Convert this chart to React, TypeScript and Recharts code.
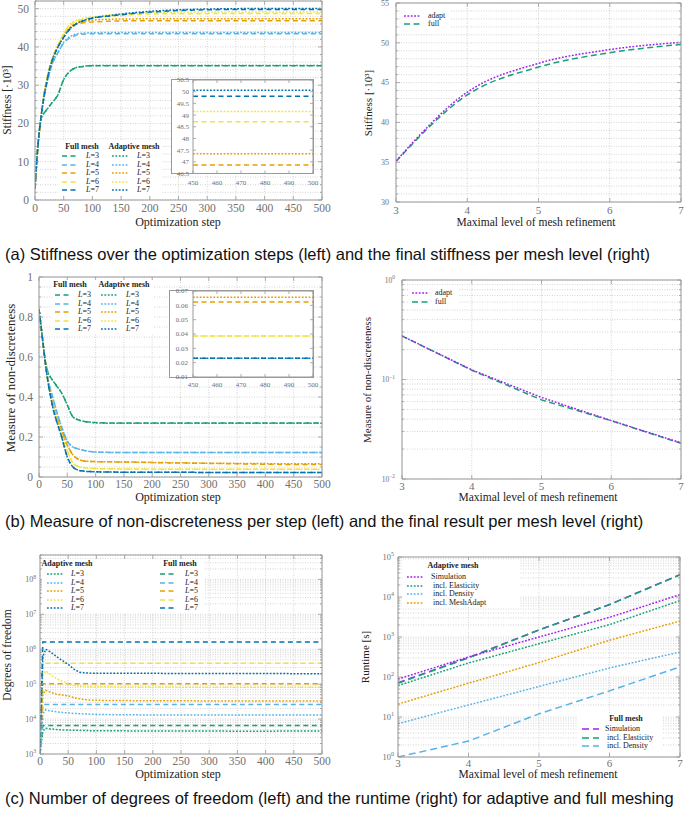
import React from 'react';
import { LineChart, Line, XAxis, YAxis, CartesianGrid } from 'recharts';

const SERIF = '"Liberation Serif", "DejaVu Serif", serif';
const SANS = '"Liberation Sans", Arial, sans-serif';
const FRAME = '#9a9a9a';
const GRID = '#c9c9c9';
const TICKTXT = '#707070';

const C3 = '#16a077', C4 = '#56b4e9', C5 = '#e69f00', C6 = '#f0e442', C7 = '#0072b2', PURPLE = '#a020f0';
const levelColors = [C3, C4, C5, C6, C7];
const levels = [3, 4, 5, 6, 7];

// ---------- left-column x values ----------
const steps = [0, 5, 10, 15, 20, 25, 30, 40, 50, 60, 70, 80, 90, 100, 125, 150, 175, 200, 250, 300, 350, 400, 450, 500];

// ---------- (a) stiffness [·10^3] ----------
const stiffFull = [
  [3, 14, 21, 22.5, 23.5, 24.5, 25.5, 27.5, 31.5, 33.5, 34.5, 34.8, 35, 35.1, 35.1, 35.1, 35.1, 35.1, 35.1, 35.1, 35.1, 35.1, 35.1, 35.1],
  [3, 14, 21, 26, 30, 33, 35.5, 38.5, 41, 42.3, 43, 43.3, 43.4, 43.45, 43.45, 43.45, 43.45, 43.45, 43.45, 43.45, 43.45, 43.45, 43.45, 43.45],
  [3, 14, 21, 27, 31, 34, 36.5, 40, 43, 44.8, 45.8, 46.2, 46.4, 46.5, 46.7, 46.8, 46.85, 46.86, 46.86, 46.86, 46.86, 46.86, 46.86, 46.86],
  [3, 14, 21, 27, 31, 34.5, 37, 40.5, 43.5, 45.5, 46.6, 47.1, 47.4, 47.6, 48, 48.3, 48.5, 48.6, 48.68, 48.7, 48.71, 48.71, 48.71, 48.71],
  [3, 14, 21, 26.5, 30.5, 34, 36.5, 40, 42.5, 44.5, 45.8, 46.6, 47.1, 47.5, 48, 48.4, 48.8, 49.1, 49.5, 49.7, 49.78, 49.8, 49.81, 49.81],
];
const stiffAdapt = [
  [3, 14, 21, 22.5, 23.5, 24.5, 25.5, 27.5, 31.5, 33.5, 34.5, 34.85, 35.05, 35.15, 35.15, 35.15, 35.15, 35.15, 35.15, 35.15, 35.15, 35.15, 35.15, 35.15],
  [3, 14, 21, 26, 30, 33, 35.5, 38.5, 41.2, 42.6, 43.3, 43.55, 43.65, 43.7, 43.75, 43.75, 43.75, 43.75, 43.75, 43.75, 43.75, 43.75, 43.75, 43.75],
  [3, 14, 21, 27, 31, 34, 36.5, 40, 43, 45, 46, 46.5, 46.8, 47, 47.2, 47.3, 47.33, 47.34, 47.34, 47.34, 47.34, 47.34, 47.34, 47.34],
  [3, 14, 21, 27, 31, 34.5, 37, 40.5, 43.5, 45.8, 46.8, 47.3, 47.6, 47.8, 48.3, 48.6, 48.8, 48.95, 49.08, 49.13, 49.15, 49.15, 49.15, 49.15],
  [3, 14, 21, 26.5, 30.5, 34, 36.5, 40, 42.5, 44.6, 45.9, 46.7, 47.2, 47.6, 48.1, 48.6, 49, 49.3, 49.7, 49.9, 50, 50.04, 50.06, 50.06],
];
const stiffFinalAdapt = [35.15, 43.8, 47.42, 49.15, 50.06];
const stiffFinalFull = [35.1, 43.45, 46.95, 48.75, 49.8];

// ---------- (b) measure of non-discreteness ----------
const ndFull = [
  [0.84, 0.72, 0.6, 0.53, 0.5, 0.48, 0.46, 0.42, 0.36, 0.3, 0.285, 0.278, 0.274, 0.272, 0.27, 0.27, 0.27, 0.27, 0.27, 0.27, 0.27, 0.27, 0.27, 0.27],
  [0.84, 0.72, 0.6, 0.5, 0.44, 0.39, 0.34, 0.25, 0.18, 0.15, 0.14, 0.133, 0.128, 0.125, 0.123, 0.122, 0.122, 0.122, 0.122, 0.122, 0.122, 0.122, 0.122, 0.122],
  [0.84, 0.72, 0.6, 0.5, 0.42, 0.36, 0.31, 0.23, 0.16, 0.11, 0.088, 0.08, 0.078, 0.077, 0.076, 0.075, 0.074, 0.072, 0.07, 0.068, 0.066, 0.064, 0.0624, 0.0624],
  [0.84, 0.72, 0.6, 0.49, 0.41, 0.35, 0.3, 0.21, 0.13, 0.07, 0.052, 0.046, 0.044, 0.042, 0.041, 0.04, 0.04, 0.039, 0.0388, 0.0386, 0.0386, 0.0386, 0.0386, 0.0386],
  [0.84, 0.72, 0.6, 0.49, 0.41, 0.34, 0.29, 0.2, 0.1, 0.05, 0.034, 0.029, 0.027, 0.026, 0.025, 0.024, 0.0238, 0.0235, 0.0232, 0.0231, 0.0231, 0.0231, 0.0231, 0.0231],
];
const ndAdapt = [
  [0.84, 0.72, 0.6, 0.53, 0.5, 0.48, 0.46, 0.42, 0.36, 0.3, 0.285, 0.278, 0.274, 0.271, 0.269, 0.269, 0.269, 0.269, 0.269, 0.269, 0.269, 0.269, 0.269, 0.269],
  [0.84, 0.72, 0.6, 0.5, 0.44, 0.39, 0.34, 0.25, 0.18, 0.15, 0.14, 0.133, 0.128, 0.125, 0.123, 0.1225, 0.1225, 0.1225, 0.1225, 0.1225, 0.1225, 0.1225, 0.1225, 0.1225],
  [0.84, 0.72, 0.6, 0.5, 0.42, 0.36, 0.31, 0.23, 0.16, 0.11, 0.088, 0.08, 0.078, 0.077, 0.076, 0.075, 0.074, 0.073, 0.071, 0.069, 0.068, 0.067, 0.0657, 0.0657],
  [0.84, 0.72, 0.6, 0.49, 0.41, 0.35, 0.3, 0.21, 0.13, 0.07, 0.052, 0.046, 0.044, 0.042, 0.041, 0.04, 0.04, 0.039, 0.0388, 0.0386, 0.0386, 0.0386, 0.0386, 0.0386],
  [0.84, 0.72, 0.6, 0.49, 0.41, 0.34, 0.29, 0.2, 0.1, 0.05, 0.034, 0.029, 0.027, 0.026, 0.025, 0.024, 0.0238, 0.0235, 0.0232, 0.0231, 0.0231, 0.0231, 0.0231, 0.0231],
];
const ndFinalAdapt = [0.274, 0.125, 0.066, 0.0386, 0.0231];
const ndFinalFull = [0.274, 0.124, 0.0624, 0.0386, 0.0228];

// ---------- (c) degrees of freedom ----------
const dofAdapt = [
  [1000, 4500, 5500, 5300, 5200, 5100, 5000, 4900, 4850, 4800, 4750, 4700, 4650, 4600, 4600, 4600, 4550, 4550, 4550, 4550, 4500, 4500, 4550, 4550],
  [1000, 14000, 18500, 17500, 17000, 16500, 16000, 15500, 15000, 14500, 14200, 14000, 13800, 13600, 13400, 13300, 13200, 13100, 13000, 13000, 13000, 13000, 13000, 13000],
  [1000, 50000, 67000, 62000, 58000, 54000, 51000, 49000, 46000, 41000, 38000, 36000, 35000, 34500, 34000, 34000, 33500, 33500, 33500, 33000, 33000, 33000, 33000, 33000],
  [1000, 180000, 240000, 210000, 180000, 160000, 140000, 120000, 105000, 92000, 88000, 86000, 85000, 84000, 84000, 83000, 83000, 83000, 82000, 82000, 82000, 81000, 81000, 81000],
  [1000, 600000, 1000000, 900000, 800000, 700000, 600000, 470000, 370000, 270000, 220000, 210000, 207000, 205000, 205000, 205000, 204000, 204000, 203000, 203000, 202000, 202000, 200000, 200000],
];
const dofFullFinal = [6500, 26000, 102000, 400000, 1600000];
const dofFull = dofFullFinal.map((v) => steps.map((s) => (s === 0 ? 1000 : v)));

// ---------- (c) runtime [s] ----------
const rtAdaptSim = [89, 316, 1000, 3100, 11500];
const rtAdaptElast = [61, 224, 680, 2040, 8100];
const rtAdaptDens = [6.8, 20, 58, 168, 420];
const rtAdaptMesh = [21, 70, 230, 830, 2500];
const rtFullSim = [72, 305, 1500, 6500, 36000];
const rtFullElast = [70, 300, 1500, 6400, 36000];
const rtFullDens = [1.0, 2.5, 12, 45, 180];

// ---------- tick helpers ----------
const range = (a: number, b: number, s: number) => {
  const out: number[] = [];
  for (let i = 0; a + i * s <= b + 1e-9; i++) out.push(+(a + i * s).toFixed(6));
  return out;
};
const logTicks = (lo: number, hi: number, max: number) => {
  const out: number[] = [];
  for (let d = lo; d <= hi; d++) for (let m = 1; m <= 9; m++) {
    const v = +(m * Math.pow(10, d)).toPrecision(6);
    if (v <= max * 1.000001) out.push(v);
  }
  return out;
};
const every = (step: number) => (v: number) => Math.abs(v / step - Math.round(v / step)) < 1e-6;
const isDecade = (v: number) => Math.abs(Math.log10(v) - Math.round(Math.log10(v))) < 1e-6;
const numFmt = (v: number) => String(v);
const logFmt = (fs: number) => (v: number) => {
  const k = Math.round(Math.log10(v));
  return [
    <tspan key="a">10</tspan>,
    <tspan key="b" dy={-fs * 0.42} fontSize={fs * 0.72}>{k < 0 ? '\u2212' + -k : String(k)}</tspan>,
  ];
};

function mkTick(side: string, ax: any, len: number, mlen: number) {
  return (props: any) => {
    const { x, y, payload } = props;
    const v = Number(payload.value);
    const M = ax.major(v);
    const L = M ? len : mlen;
    const els: any[] = [];
    if (side === 'bottom') els.push(<line key="l" x1={x} y1={y} x2={x} y2={y - L} stroke={FRAME} strokeWidth={0.8} />);
    if (side === 'top') els.push(<line key="l" x1={x} y1={y} x2={x} y2={y + L} stroke={FRAME} strokeWidth={0.8} />);
    if (side === 'left') els.push(<line key="l" x1={x} y1={y} x2={x + L} y2={y} stroke={FRAME} strokeWidth={0.8} />);
    if (side === 'right') els.push(<line key="l" x1={x} y1={y} x2={x - L} y2={y} stroke={FRAME} strokeWidth={0.8} />);
    if (M && (side === 'bottom' || side === 'left')) {
      const tx = side === 'bottom' ? x : x - ax.off;
      const ty = side === 'bottom' ? y + ax.off + ax.fs * 0.35 : y + ax.fs * 0.35;
      els.push(
        <text key="t" x={tx} y={ty} textAnchor={side === 'bottom' ? 'middle' : 'end'} fontSize={ax.fs} fill={TICKTXT} fontFamily={SERIF}>
          {ax.fmt(v)}
        </text>
      );
    }
    return <g>{els}</g>;
  };
}

function Panel(props: any) {
  const { x0, x1, y0, y1, data, xKey, series, xa, ya, grid = true, mirror = true, len = 4, mlen = 2 } = props;
  const padL = 40, padR = 10, padB = 26;
  const padT = Math.max(1, Math.min(10, y0));
  const left = x0 - padL, top = y0 - padT;
  const width = x1 - x0 + padL + padR, height = y1 - y0 + padT + padB;
  const common: any = { allowDataOverflow: true, interval: 0, tickLine: false, tickSize: 0, tickMargin: 0, axisLine: { stroke: FRAME, strokeWidth: 1 } };
  const xs = xa.log ? 'log' : 'linear';
  const ys = ya.log ? 'log' : 'linear';
  const m = mirror ? 1 : 0;
  return (
    <div style={{ position: 'absolute', left, top, width, height }}>
      <LineChart width={width} height={height} data={data} margin={{ top: padT - m, right: padR - m, bottom: padB - 1, left: padL - 1 }}>
        {grid && <CartesianGrid xAxisId={0} yAxisId={0} stroke={GRID} strokeDasharray="1 1.5" strokeWidth={0.8} />}
        <XAxis xAxisId={0} dataKey={xKey} type="number" scale={xs} domain={xa.domain} ticks={xa.ticks} height={1} tick={mkTick('bottom', xa, len, mlen)} {...common} />
        {mirror && <XAxis xAxisId="top" orientation="top" dataKey={xKey} type="number" scale={xs} domain={xa.domain} ticks={xa.ticks} height={1} tick={mkTick('top', xa, len, mlen)} {...common} />}
        <YAxis yAxisId={0} type="number" scale={ys} domain={ya.domain} ticks={ya.ticks} width={1} tick={mkTick('left', ya, len, mlen)} {...common} />
        {mirror && <YAxis yAxisId="right" orientation="right" type="number" scale={ys} domain={ya.domain} ticks={ya.ticks} width={1} tick={mkTick('right', ya, len, mlen)} {...common} />}
        {series.map((s: any) => (
          <Line key={s.key} xAxisId={0} yAxisId={0} dataKey={s.key} stroke={s.color} strokeWidth={s.w ?? 1.5} strokeDasharray={s.dash} dot={false} activeDot={false} isAnimationActive={false} type={s.curve ?? 'monotone'} />
        ))}
      </LineChart>
    </div>
  );
}

// ---------- data tables built from arrays ----------
const leftRows = (full: number[][], adapt: number[][]) =>
  steps.map((s, i) => {
    const r: any = { step: s };
    levels.forEach((_, j) => {
      r['f' + j] = full[j][i];
      r['a' + j] = adapt[j][i];
    });
    return r;
  });
const stiffRows = leftRows(stiffFull, stiffAdapt);
const ndRows = leftRows(ndFull, ndAdapt);
const dofRows = leftRows(dofFull, dofAdapt);
const stiffFinalRows = levels.map((l, i) => ({ lvl: l, adapt: stiffFinalAdapt[i], full: stiffFinalFull[i] }));
const ndFinalRows = levels.map((l, i) => ({ lvl: l, adapt: ndFinalAdapt[i], full: ndFinalFull[i] }));
const rtRows = levels.map((l, i) => ({
  lvl: l, aSim: rtAdaptSim[i], aEl: rtAdaptElast[i], aDe: rtAdaptDens[i], aMe: rtAdaptMesh[i],
  fSim: rtFullSim[i], fEl: rtFullElast[i], fDe: rtFullDens[i],
}));

const DASH = '5 3.5';
const DOT = '1.8 1.6';
const leftSeries = (curve: string) =>
  levels.flatMap((_, j) => [
    { key: 'f' + j, color: levelColors[j], dash: DASH, curve },
    { key: 'a' + j, color: levelColors[j], dash: DOT, curve },
  ]);
const insetSeries = (idx: number[]) => idx.flatMap((j) => [
  { key: 'f' + j, color: levelColors[j], dash: DASH, curve: 'linear' },
  { key: 'a' + j, color: levelColors[j], dash: DOT, curve: 'linear' },
]);

const stepAxis = (fs: number, off: number) => ({ domain: [0, 500], ticks: range(0, 500, 50), major: every(50), fmt: numFmt, fs, off });
const lvlAxis = (fs: number, off: number) => ({ domain: [3, 7], ticks: [3, 4, 5, 6, 7], major: every(1), fmt: numFmt, fs, off });

// ---------- small text / legend helpers ----------
function Txt({ x, y, children, fs = 11, rot = false, color = '#222', family = SERIF, weight = 'normal', anchor = 'middle' }: any) {
  const tr = rot ? 'translate(-50%,-50%) rotate(-90deg)' : anchor === 'middle' ? 'translate(-50%,-50%)' : 'translate(0,-50%)';
  return (
    <div style={{ position: 'absolute', left: x, top: y, transform: tr, whiteSpace: 'pre', fontSize: fs, fontFamily: family, color, lineHeight: 1, fontWeight: weight }}>
      {children}
    </div>
  );
}
function Sw({ x, y, w = 17, color, dash, sw = 1.5 }: any) {
  return (
    <svg width={w} height={6} style={{ position: 'absolute', left: x, top: y - 3 }}>
      <line x1={0} y1={3} x2={w} y2={3} stroke={color} strokeWidth={sw} strokeDasharray={dash} />
    </svg>
  );
}
function Box({ x, y, w, h, border }: any) {
  return <div style={{ position: 'absolute', left: x, top: y, width: w, height: h, background: '#fff', boxSizing: 'border-box', border: border ? `1px solid ${FRAME}` : 'none' }} />;
}
const LLabel = ({ l }: any) => (
  <span>
    <i>L</i>={l}
  </span>
);

function TwoColLegend({ bx, by, bw, bh, hy, h1, h1x, h2, h2x, rows, c1sw, c1lab, c1dash, c2sw, c2lab, c2dash }: any) {
  return (
    <>
      <Box x={bx} y={by} w={bw} h={bh} />
      <Txt x={h1x} y={hy} fs={8} weight="bold">{h1}</Txt>
      <Txt x={h2x} y={hy} fs={8} weight="bold">{h2}</Txt>
      {levels.map((l, j) => (
        <React.Fragment key={l}>
          <Sw x={c1sw} y={rows[j]} color={levelColors[j]} dash={c1dash} />
          <Txt x={c1lab} y={rows[j]} fs={8} anchor="start"><LLabel l={l} /></Txt>
          <Sw x={c2sw} y={rows[j]} color={levelColors[j]} dash={c2dash} />
          <Txt x={c2lab} y={rows[j]} fs={8} anchor="start"><LLabel l={l} /></Txt>
        </React.Fragment>
      ))}
    </>
  );
}

export default function App() {
  const insetStiffRows = stiffRows.filter((r) => r.step >= 450);
  const insetNdRows = ndRows.filter((r) => r.step >= 450);
  return (
    <div style={{ position: 'absolute', left: 0, top: 0, width: 685, height: 815, background: '#fff', overflow: 'hidden', fontFamily: SERIF }}>
      {/* ===== (a) left ===== */}
      <Panel x0={35} x1={322} y0={1} y1={200} data={stiffRows} xKey="step" series={leftSeries('monotone')}
        xa={stepAxis(11.5, 8)}
        ya={{ domain: [0, 52], ticks: range(0, 52, 2), major: every(10), fmt: numFmt, fs: 11.5, off: 6 }} />
      <Box x={171} y={79} w={143} h={95} border />
      <Panel x0={193} x1={313} y0={79.5} y1={173} data={insetStiffRows} xKey="step" series={insetSeries([2, 3, 4])} grid={false} len={3} mlen={3}
        xa={{ domain: [450, 500], ticks: range(450, 500, 10), major: every(10), fmt: numFmt, fs: 7, off: 9 }}
        ya={{ domain: [46.5, 50.5], ticks: range(46.5, 50.5, 0.5), major: every(0.5), fmt: numFmt, fs: 7, off: 4 }} />
      <TwoColLegend bx={58} by={141} bw={104} bh={55} hy={147} h1="Full mesh" h1x={82} h2="Adaptive mesh" h2x={134}
        rows={[156, 164.5, 173, 181.5, 190]} c1sw={62} c1lab={86} c1dash={DASH} c2sw={112} c2lab={137} c2dash={DOT} />
      <Txt x={8} y={100} fs={11.5} rot>Stiffness [·10³]</Txt>
      <Txt x={178} y={222} fs={12}>Optimization step</Txt>

      {/* ===== (a) right ===== */}
      <Panel x0={396} x1={681} y0={3} y1={202} data={stiffFinalRows} xKey="lvl"
        series={[{ key: 'full', color: C3, dash: '6 3.5', curve: 'monotone' }, { key: 'adapt', color: PURPLE, dash: DOT, curve: 'monotone' }]}
        xa={lvlAxis(11, 8)}
        ya={{ domain: [30, 55], ticks: range(30, 55, 1), major: every(5), fmt: numFmt, fs: 8, off: 7 }} />
      <Box x={401} y={10} w={50} h={19} />
      <Sw x={404} y={15.5} color={PURPLE} dash={DOT} />
      <Txt x={428} y={15.5} fs={8} anchor="start">adapt</Txt>
      <Sw x={404} y={23.5} color={C3} dash="6 3.5" />
      <Txt x={428} y={23.5} fs={8} anchor="start">full</Txt>
      <Txt x={368} y={103} fs={11} rot>Stiffness [·10³]</Txt>
      <Txt x={536} y={223} fs={11.5}>Maximal level of mesh refinement</Txt>

      <Txt x={5} y={254} fs={16.5} family={SANS} color="#111" anchor="start">(a) Stiffness over the optimization steps (left) and the final stiffness per mesh level (right)</Txt>

      {/* ===== (b) left ===== */}
      <Panel x0={39} x1={322} y0={277} y1={477} data={ndRows} xKey="step" series={leftSeries('monotone')}
        xa={stepAxis(11.5, 7)}
        ya={{ domain: [0, 1], ticks: range(0, 1, 0.05), major: every(0.2), fmt: numFmt, fs: 11.5, off: 6 }} />
      <Box x={169} y={290} w={145} h={88} border />
      <Panel x0={193} x1={313} y0={291} y1={377} data={insetNdRows} xKey="step" series={insetSeries([2, 3, 4])} grid={false} len={3} mlen={3}
        xa={{ domain: [450, 500], ticks: range(450, 500, 10), major: every(10), fmt: numFmt, fs: 7, off: 8 }}
        ya={{ domain: [0.01, 0.07], ticks: range(0.01, 0.07, 0.01), major: every(0.01), fmt: numFmt, fs: 7, off: 5 }} />
      <TwoColLegend bx={52} by={280} bw={101} bh={54} hy={285} h1="Full mesh" h1x={70} h2="Adaptive mesh" h2x={124}
        rows={[295, 303.5, 312, 320.5, 329]} c1sw={55} c1lab={78} c1dash={DASH} c2sw={101} c2lab={126} c2dash={DOT} />
      <Txt x={10} y={378} fs={13} rot>Measure of non-discreteness</Txt>
      <Txt x={178} y={497} fs={12}>Optimization step</Txt>

      {/* ===== (b) right ===== */}
      <Panel x0={402} x1={681} y0={280} y1={479} data={ndFinalRows} xKey="lvl"
        series={[{ key: 'full', color: C3, dash: '6 3.5', curve: 'linear' }, { key: 'adapt', color: PURPLE, dash: DOT, curve: 'linear' }]}
        xa={lvlAxis(11, 7)}
        ya={{ domain: [0.01, 1], ticks: logTicks(-2, 0, 1), major: isDecade, fmt: logFmt(7.5), fs: 7.5, off: 7, log: true }} />
      <Box x={408} y={288} w={50} h={19} />
      <Sw x={412} y={293} color={PURPLE} dash={DOT} />
      <Txt x={435} y={293} fs={8} anchor="start">adapt</Txt>
      <Sw x={412} y={301.5} color={C3} dash="6 3.5" />
      <Txt x={435} y={301.5} fs={8} anchor="start">full</Txt>
      <Txt x={367} y={380} fs={11} rot>Measure of non-discreteness</Txt>
      <Txt x={538} y={498} fs={11.5}>Maximal level of mesh refinement</Txt>

      <Txt x={5} y={521} fs={16.5} family={SANS} color="#111" anchor="start">(b) Measure of non-discreteness per step (left) and the final result per mesh level (right)</Txt>

      {/* ===== (c) left ===== */}
      <Panel x0={40} x1={322} y0={555} y1={754} data={dofRows} xKey="step" series={leftSeries('linear')}
        xa={stepAxis(11.5, 7)}
        ya={{ domain: [1000, 5e8], ticks: logTicks(3, 8, 5e8), major: isDecade, fmt: logFmt(8), fs: 8, off: 4, log: true }} />
      <TwoColLegend bx={42} by={559} bw={163} bh={54} hy={564} h1="Adaptive mesh" h1x={67} h2="Full mesh" h2x={180}
        rows={[574, 582.5, 591, 599.5, 608]} c1sw={47} c1lab={71} c1dash={DOT} c2sw={160} c2lab={185} c2dash={DASH} />
      <Txt x={8} y={655} fs={11.5} rot>Degrees of freedom</Txt>
      <Txt x={178} y={774} fs={12}>Optimization step</Txt>

      {/* ===== (c) right ===== */}
      <Panel x0={398} x1={680} y0={557} y1={757} data={rtRows} xKey="lvl"
        series={[
          { key: 'fSim', color: PURPLE, dash: '7 4', curve: 'linear' },
          { key: 'fEl', color: C3, dash: '7 4', curve: 'linear' },
          { key: 'fDe', color: C4, dash: '7 4', curve: 'linear' },
          { key: 'aSim', color: PURPLE, dash: DOT, curve: 'linear' },
          { key: 'aEl', color: C3, dash: DOT, curve: 'linear' },
          { key: 'aDe', color: C4, dash: DOT, curve: 'linear' },
          { key: 'aMe', color: C5, dash: DOT, curve: 'linear' },
        ]}
        xa={lvlAxis(11, 6)}
        ya={{ domain: [1, 1e5], ticks: logTicks(0, 5, 1e5), major: isDecade, fmt: logFmt(8.5), fs: 8.5, off: 4, log: true }} />
      <Box x={403} y={560} w={117} h={47} />
      <Txt x={453} y={566} fs={8} weight="bold">Adaptive mesh</Txt>
      <Sw x={407} y={577} color={PURPLE} dash={DOT} />
      <Txt x={431} y={577} fs={8} anchor="start">Simulation</Txt>
      <Sw x={407} y={585.5} color={C3} dash={DOT} />
      <Txt x={431} y={585.5} fs={8} anchor="start"> incl. Elasticity</Txt>
      <Sw x={407} y={594} color={C4} dash={DOT} />
      <Txt x={431} y={594} fs={8} anchor="start"> incl. Density</Txt>
      <Sw x={407} y={602.5} color={C5} dash={DOT} />
      <Txt x={431} y={602.5} fs={8} anchor="start"> incl. MeshAdapt</Txt>
      <Box x={578} y={713} w={84} h={39} />
      <Txt x={626} y={719} fs={8} weight="bold">Full mesh</Txt>
      <Sw x={582} y={729} color={PURPLE} dash="7 4" />
      <Txt x={605} y={729} fs={8} anchor="start">Simulation</Txt>
      <Sw x={582} y={737.5} color={C3} dash="7 4" />
      <Txt x={605} y={737.5} fs={8} anchor="start"> incl. Elasticity</Txt>
      <Sw x={582} y={746} color={C4} dash="7 4" />
      <Txt x={605} y={746} fs={8} anchor="start"> incl. Density</Txt>
      <Txt x={365} y={657} fs={11} rot>Runtime [s]</Txt>
      <Txt x={538} y={775} fs={11.5}>Maximal level of mesh refinement</Txt>

      <Txt x={5} y={798} fs={16.5} family={SANS} color="#111" anchor="start">(c) Number of degrees of freedom (left) and the runtime (right) for adaptive and full meshing</Txt>
    </div>
  );
}
